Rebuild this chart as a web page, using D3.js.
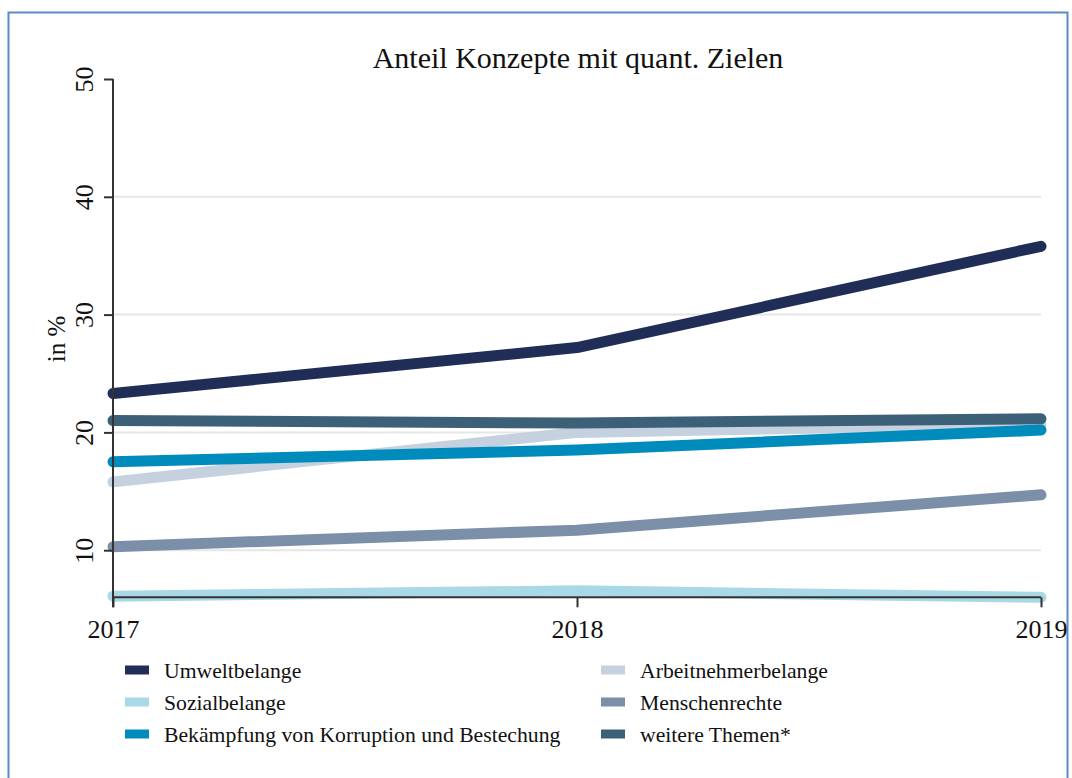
<!DOCTYPE html>
<html>
<head>
<meta charset="utf-8">
<script src="https://cdn.jsdelivr.net/npm/d3@7"></script>
<style>
    body { margin: 0; background: #fff; }
    svg { display: block; font-family: "Liberation Serif", "DejaVu Serif", serif; }
</style>
</head>
<body>
<div id="container"></div>
<script>
const WIDTH = 1072;
const HEIGHT = 778;

// Daten
const years = [2017, 2018, 2019];
const seriesNames = [
    "Umweltbelange",
    "Sozialbelange",
    "Bekämpfung von Korruption und Bestechung",
    "Arbeitnehmerbelange",
    "Menschenrechte",
    "weitere Themen*"
];
const umwelt = [23.3, 27.2, 35.8];
const sozial = [6.1, 6.55, 6.0];
const korruption = [17.5, 18.5, 20.2];
const arbeitnehmer = [15.8, 20.0, 20.7];
const menschenrechte = [10.3, 11.7, 14.7];
const weitere = [21.0, 20.8, 21.15];
const colors = ["#1f2d57", "#a9d9e6", "#008bbd", "#c5d1de", "#7b8fa8", "#3d6079"];
const yTicks = [10, 20, 30, 40, 50];
const gridTicks = [10, 20, 30, 40];

const seriesValues = [umwelt, sozial, korruption, arbeitnehmer, menschenrechte, weitere];
// Zeichenreihenfolge (oben liegende Linien zuletzt)
const drawOrder = [0, 1, 3, 4, 2, 5];

const svg = d3.select("#container").append("svg")
    .attr("width", WIDTH)
    .attr("height", HEIGHT);

// Rahmen
svg.append("rect")
    .attr("x", 8.5).attr("y", 12.5)
    .attr("width", 1059).attr("height", 800)
    .attr("fill", "none")
    .attr("stroke", "#5b8ac6")
    .attr("stroke-width", 2);

const x = d3.scaleLinear().domain([2017, 2019]).range([113, 1041]);
const y = d3.scaleLinear().domain([0, 50]).range([668, 79]);
const yBase = 6; // x-Achse liegt bei 6

// Gitter
svg.append("g").selectAll("line")
    .data(gridTicks).enter().append("line")
    .attr("x1", x(2017)).attr("x2", x(2019))
    .attr("y1", d => y(d)).attr("y2", d => y(d))
    .attr("stroke", "#e6e6e6")
    .attr("stroke-width", 2);

// Linien
const line = d3.line()
    .x((d, i) => x(years[i]))
    .y(d => y(d));

svg.append("g").selectAll("path")
    .data(drawOrder).enter().append("path")
    .attr("d", k => line(seriesValues[k]))
    .attr("fill", "none")
    .attr("stroke", k => colors[k])
    .attr("stroke-width", 11)
    .attr("stroke-linecap", "round")
    .attr("stroke-linejoin", "round");

// y-Achse
const yAxis = d3.axisLeft(y).tickValues(yTicks).tickSize(9).tickPadding(0).tickFormat(d3.format("d"));
const gy = svg.append("g").attr("transform", `translate(${x(2017)},0)`).call(yAxis);
gy.select(".domain").remove();
gy.append("line")
    .attr("x1", 0).attr("x2", 0)
    .attr("y1", y(50)).attr("y2", y(yBase) + 10)
    .attr("stroke", "#333").attr("stroke-width", 2);
gy.selectAll(".tick line").attr("stroke", "#333").attr("stroke-width", 2);
gy.selectAll(".tick text")
    .attr("x", null).attr("dy", null)
    .attr("transform", "translate(-20,0) rotate(-90)")
    .attr("text-anchor", "middle")
    .attr("fill", "#111")
    .style("font-size", "26px")
    .style("font-family", "Liberation Serif");

// x-Achse
const xAxis = d3.axisBottom(x).tickValues(years).tickSize(10).tickPadding(12).tickFormat(d3.format("d"));
const gx = svg.append("g").attr("transform", `translate(0,${y(yBase)})`).call(xAxis);
gx.select(".domain").remove();
gx.append("line")
    .attr("x1", x(2017)).attr("x2", x(2019))
    .attr("y1", 0).attr("y2", 0)
    .attr("stroke", "#333").attr("stroke-width", 2);
gx.selectAll(".tick line").attr("stroke", "#333").attr("stroke-width", 2);
gx.selectAll(".tick text")
    .attr("fill", "#111")
    .style("font-size", "26px")
    .style("font-family", "Liberation Serif");

// Titel
svg.append("text")
    .attr("x", 578).attr("y", 68)
    .attr("text-anchor", "middle")
    .style("font-size", "30px")
    .attr("fill", "#111")
    .text("Anteil Konzepte mit quant. Zielen");

// y-Beschriftung
svg.append("text")
    .attr("transform", "translate(65,339) rotate(-90)")
    .attr("text-anchor", "middle")
    .style("font-size", "25px")
    .attr("fill", "#111")
    .text("in %");

// Legende
const legendPos = [
    { x: 125, y: 670 }, { x: 125, y: 702 }, { x: 125, y: 734 },
    { x: 601, y: 670 }, { x: 601, y: 702 }, { x: 601, y: 734 }
];
const legend = svg.append("g").selectAll("g")
    .data(seriesNames).enter().append("g")
    .attr("transform", (d, i) => `translate(${legendPos[i].x},${legendPos[i].y})`);
legend.append("rect")
    .attr("x", 0).attr("y", -4.5)
    .attr("width", 24).attr("height", 9)
    .attr("fill", (d, i) => colors[i]);
legend.append("text")
    .attr("x", 39).attr("y", 8)
    .style("font-size", "21.7px")
    .attr("fill", "#111")
    .text(d => d);
</script>
</body>
</html>
